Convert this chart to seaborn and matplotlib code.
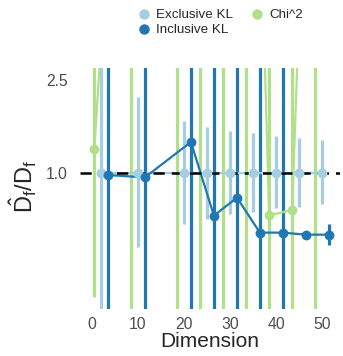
import matplotlib
matplotlib.use("Agg")
import matplotlib.pyplot as plt
from matplotlib.lines import Line2D
import seaborn as sns
import pandas as pd
import numpy as np

# ---- data ----
dims = [2, 10, 20, 25, 30, 35, 40, 45, 50]
methods = ["Exclusive KL", "Inclusive KL", "Chi^2"]

excl_est = [1.0, 1.0, 1.0, 1.0, 1.0, 1.0, 1.0, 1.0, 1.0]
excl_lo = [0.05, 0.48, 0.60, 0.634, 0.663, 0.68, 0.703, 0.715, 0.732]
excl_hi = [20.0, 2.12, 1.667, 1.576, 1.514, 1.476, 1.437, 1.405, 1.381]

incl_est = [0.977, 0.955, 1.354, 0.654, 0.781, 0.553, 0.553, 0.542, 0.542]
incl_lo = [0.01, 0.01, 0.01, 0.01, 0.01, 0.01, 0.01, 0.53, 0.489]
incl_hi = [100.0, 100.0, 100.0, 100.0, 100.0, 100.0, 100.0, 0.555, 0.60]

chi_est = [1.26, 380.0, 2000.0, 2000.0, 2000.0, 2000.0, 0.656, 0.692, 470.0]
chi_lo = [0.294, 0.01, 0.01, 0.01, 0.01, 0.01, 0.01, 0.01, 0.01]
chi_hi = [1e4, 1e5, 1e5, 1e5, 1e5, 1e5, 1e4, 1e4, 1e5]

offsets = {"Chi^2": -1.5, "Exclusive KL": 0.0, "Inclusive KL": 1.5}
colors = {"Exclusive KL": "#a6cee3", "Inclusive KL": "#1f78b4", "Chi^2": "#b2df8a"}

rows = []
for m, est, lo, hi in [("Chi^2", chi_est, chi_lo, chi_hi),
                       ("Exclusive KL", excl_est, excl_lo, excl_hi),
                       ("Inclusive KL", incl_est, incl_lo, incl_hi)]:
    for d, e, l, h in zip(dims, est, lo, hi):
        rows.append({"method": m, "dim": d, "x": d + offsets[m], "est": e, "lo": l, "hi": h})
df = pd.DataFrame(rows)

sns.set_theme(style="white")
plt.rcParams["font.family"] = ["Liberation Sans", "DejaVu Sans"]
plt.rcParams["mathtext.fontset"] = "custom"
plt.rcParams["mathtext.rm"] = "Liberation Sans"
plt.rcParams["mathtext.it"] = "Liberation Sans"
plt.rcParams["mathtext.bf"] = "Liberation Sans:bold"

fig = plt.figure(figsize=(3.43, 3.56), dpi=100)
ax = fig.add_axes([80 / 343, 47 / 356, 260 / 343, 241 / 356])

draw_order = ["Chi^2", "Exclusive KL", "Inclusive KL"]
for i, m in enumerate(draw_order):
    sub = df[df["method"] == m]
    ax.vlines(sub["x"], sub["lo"], sub["hi"], color=colors[m], linewidth=2.3, zorder=1 + i * 0.1)
    sns.lineplot(data=sub, x="x", y="est", color=colors[m], linewidth=1.6,
                 ax=ax, legend=False, sort=True, zorder=1.5 + i * 0.1)

ax.axhline(1.0, color="black", linestyle=(0, (4.5, 2.8)), linewidth=1.8, zorder=2.5)

for i, m in enumerate(draw_order):
    sub = df[df["method"] == m]
    sns.scatterplot(data=sub, x="x", y="est", color=colors[m], s=50, linewidth=0,
                    ax=ax, legend=False, zorder=3 + i * 0.1)

ax.set_yscale("log")
ax.set_ylim(0.26, 2.814)
ax.set_xlim(-2.61, 53.9)
ax.set_yticks([1.0, 2.5])
ax.set_yticklabels(["1.0", "2.5"])
ax.minorticks_off()
ax.set_xticks([0, 10, 20, 30, 40, 50])
ax.tick_params(axis="both", length=0, labelsize=11.3, labelcolor="#4d4d4d")
ax.tick_params(axis="y", pad=9)
ax.tick_params(axis="x", pad=6)
for s in ax.spines.values():
    s.set_visible(False)
ax.set_xlabel("Dimension", fontsize=15, labelpad=0)
ax.set_ylabel("")
fig.text(0.068, 0.475, r"$\hat{\mathrm{D}}_\mathrm{f}/\mathrm{D}_\mathrm{f}$", rotation=90,
         fontsize=17, ha="center", va="center")

handles = [Line2D([], [], marker="o", linestyle="none", markersize=7.5,
                  markeredgewidth=0, color=colors[m]) for m in methods]
fig.legend(handles, methods, loc="upper left", bbox_to_anchor=(128 / 343, 0.997),
           ncol=2, frameon=False, fontsize=9.6, handletextpad=0.3,
           columnspacing=1.2, labelspacing=0.2, borderaxespad=0.2, handlelength=1.2)

fig.savefig("out.png", dpi=100)
